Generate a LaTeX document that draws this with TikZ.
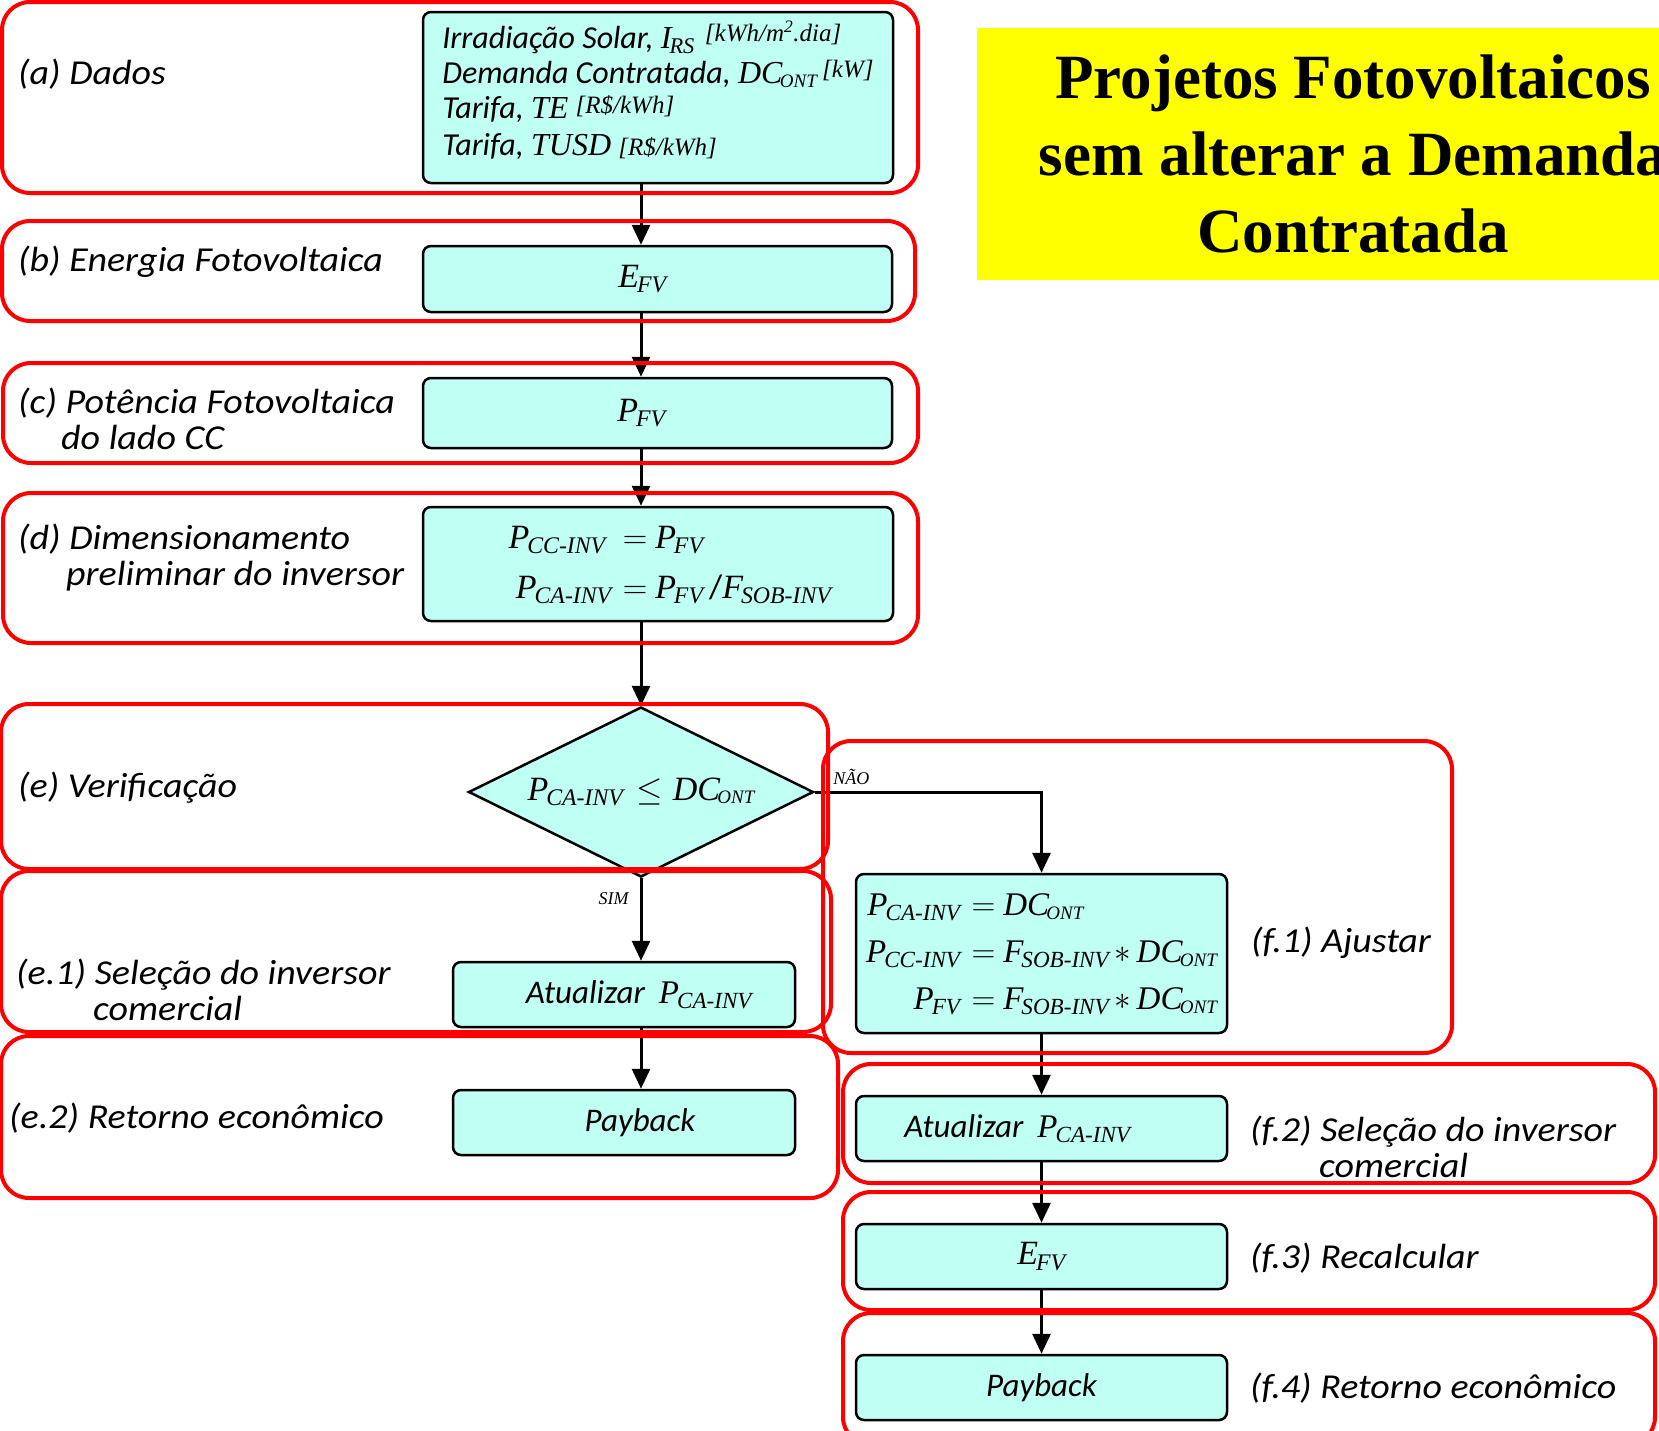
\RequirePackage{fix-cm}
\documentclass[tikz,border=0pt]{standalone}
\usepackage{fontspec}
\setmainfont{Carlito}
\newfontfamily\tms{Liberation Serif}
\newfontfamily\lblfont{Carlito}[FakeStretch=1.085]
\usetikzlibrary{arrows.meta,shapes.geometric}
\definecolor{boxcyan}{RGB}{192,255,244}
\definecolor{grpred}{RGB}{255,0,0}
\definecolor{tityellow}{RGB}{255,255,0}
\newcommand\gr[2]{{\tms\itshape #1\kern-.06em\textsubscript{#2}}}
\newcommand\dc{{\tms\itshape DC\kern-.08em\raisebox{-.1em}{\fontsize{19}{19}\selectfont ONT}}}
\newcommand\un[1]{{\tms\itshape\fontsize{25}{25}\selectfont[#1]}}
\newcommand\eq{\hspace{11pt}$=$\hspace{8pt}}
\begin{document}
\begin{tikzpicture}[x=1pt,y=-1pt,
  box/.style={draw,line width=2.5pt,fill=boxcyan,rounded corners=8pt,inner sep=0pt,
    font=\fontsize{34}{47}\selectfont},
  txt/.style={box,font=\itshape\fontsize{33}{40}\selectfont},
  dec/.style={diamond,aspect=2,draw,line width=2.5pt,fill=boxcyan,inner sep=0pt,
    minimum width=345pt,minimum height=170pt,font=\fontsize{34}{40}\selectfont},
  grupo/.style={draw=grpred,line width=4pt,rounded corners=28pt},
  lbl/.style={anchor=west,align=left,inner sep=0pt,font=\lblfont\itshape\fontsize{35}{36}\selectfont},
  arr/.style={line width=3pt,-{Triangle[length=20pt,width=18pt]}},
  yn/.style={inner sep=1pt,font=\tms\itshape\fontsize{18}{18}\selectfont},
  titulo/.style={fill=tityellow,minimum width=752pt,minimum height=252pt,align=center,
    font=\tms\bfseries\fontsize{63}{77}\selectfont}]
  \useasboundingbox (0,0) rectangle (1659,1430);

  \node[titulo] (tit) at (1353,154) {Projetos Fotovoltaicos\\sem alterar a Demanda\\Contratada};

  \node[box,minimum width=470pt,minimum height=171pt,align=left,
        font=\itshape\fontsize{32}{35}\selectfont] (dados) at (658,97.5)
    {Irradiação Solar, \gr{I}{RS}\hspace{10pt}\raisebox{7pt}{\un{kWh/m\textsuperscript{2}.dia}}\\
     Demanda Contratada, \dc\,\raisebox{6pt}{\un{kW}}\\
     Tarifa, {\tms TE} \raisebox{5pt}{\un{R\$/kWh}}\\[2pt]
     Tarifa, {\tms TUSD} \un{R\$/kWh}\rule[-18pt]{0pt}{1pt}};
  \node[box,minimum width=469pt,minimum height=66pt] (efv) at (657.5,279) {\gr{E}{FV}\hspace*{30pt}};
  \node[box,minimum width=469pt,minimum height=70pt] (pfv) at (657.5,413) {\gr{P}{FV}\hspace*{32pt}};
  \node[box,minimum width=470pt,minimum height=114pt] (dim) at (658,564)
    {\hspace*{24pt}\begin{tabular}{@{}r@{}l@{}}
      \gr{P}{CC-INV}\hspace*{6pt} & \eq\gr{P}{FV}\\[3pt]
      \gr{P}{CA-INV} & \eq\gr{P}{FV}\,/\gr{F}{SOB-INV}
    \end{tabular}};
  \node[dec] (ver) at (641,792) {\gr{P}{CA-INV}\hspace{13pt}$\leq$\hspace{10pt}\dc};
  \node[txt,minimum width=342pt,minimum height=65pt] (atu) at (624,994.5)
    {\hspace*{30pt}Atualizar\hspace{14pt}\gr{P}{CA-INV}};
  \node[txt,minimum width=342pt,minimum height=65pt] (pay) at (624,1122.5) {\hspace*{32pt}Payback};

  \node[box,minimum width=371pt,minimum height=159pt,font=\fontsize{33}{47}\selectfont] (aju) at (1041.5,953.5)
    {\begin{tabular}{@{}r@{}l@{}}
      \gr{P}{CA-INV} & \eq\dc\\
      \gr{P}{CC-INV} & \eq\gr{F}{SOB-INV}\,$\ast$\,\dc\\
      \gr{P}{FV} & \eq\gr{F}{SOB-INV}\,$\ast$\,\dc
    \end{tabular}};
  \node[txt,minimum width=371pt,minimum height=65pt] (atu2) at (1041.5,1128.5)
    {Atualizar\hspace{14pt}\gr{P}{CA-INV}\hspace*{48pt}};
  \node[box,minimum width=371pt,minimum height=65pt] (efv2) at (1041.5,1256.5) {\gr{E}{FV}};
  \node[txt,minimum width=371pt,minimum height=65pt] (pay2) at (1041.5,1387.5) {Payback};

  \node[lbl] (la) at (18,74) {(a) Dados};
  \node[lbl] (lb) at (18,262) {(b) Energia Fotovoltaica};
  \node[lbl] (lc) at (18,419) {(c) Potência Fotovoltaica\\\hspace*{43pt}do lado CC};
  \node[lbl] (ld) at (18,558) {(d) Dimensionamento\\\hspace*{48pt}preliminar do inversor};
  \node[lbl] (le) at (18,788) {(e) Verificação};
  \node[lbl] (le1) at (16,989.5) {(e.1) Seleção do inversor\\\hspace*{77pt}comercial};
  \node[lbl] (le2) at (9,1118) {(e.2) Retorno econômico};
  \node[lbl] (lf1) at (1251,943) {(f.1) Ajustar};
  \node[lbl] (lf2) at (1250,1146.5) {(f.2) Seleção do inversor\\\hspace*{69pt}comercial};
  \node[lbl] (lf3) at (1250,1258) {(f.3) Recalcular};
  \node[lbl] (lf4) at (1250,1388) {(f.4) Retorno econômico};

  \draw[arr] (dados.south -| ver.north) -- (efv.north -| ver.north);
  \draw[arr] (efv.south -| ver.north) -- (pfv.north -| ver.north);
  \draw[arr] (pfv.south -| ver.north) -- (dim.north -| ver.north);
  \draw[arr] (dim.south -| ver.north) -- (ver.north);
  \draw[arr] (ver.south) -- node[yn,pos=.25,left=10pt]{SIM} (atu.north -| ver.south);
  \draw[arr] (atu.south -| ver.south) -- (pay.north -| ver.south);
  \draw[arr] (ver.east) node[yn,anchor=south west,xshift=16pt,yshift=5pt]{NÃO} -| (aju.north);
  \draw[arr] (aju) -- (atu2);
  \draw[arr] (atu2) -- (efv2);
  \draw[arr] (efv2) -- (pay2);

  \draw[grupo] (2,2) rectangle (918,193);
  \draw[grupo] (2,221) rectangle (915,321);
  \draw[grupo] (3,363) rectangle (918,463);
  \draw[grupo] (3,493) rectangle (918,643);
  \draw[grupo] (1,704) rectangle (828,869);
  \draw[grupo] (1,871) rectangle (831,1032);
  \draw[grupo] (1,1036) rectangle (838,1198);
  \draw[grupo] (823,741) rectangle (1452,1053);
  \draw[grupo] (843,1064) rectangle (1655,1183);
  \draw[grupo] (843,1192) rectangle (1655,1310);
  \draw[grupo] (843,1313) rectangle (1655,1445);
\end{tikzpicture}
\end{document}
